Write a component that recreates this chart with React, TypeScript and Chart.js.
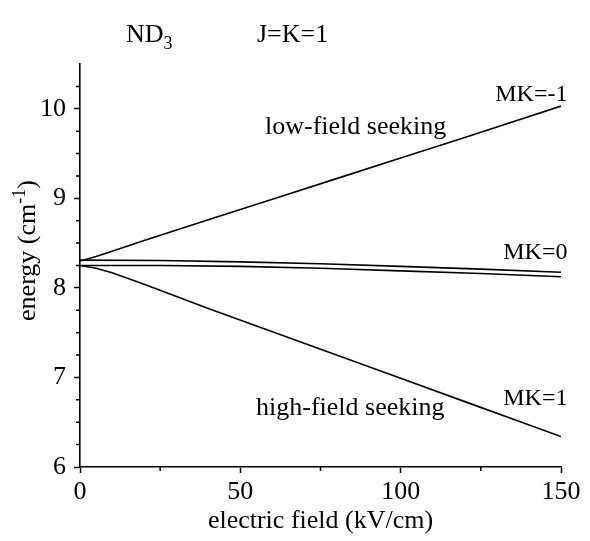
import React, { useEffect, useRef } from "react";
import { Chart, registerables } from "chart.js";

Chart.register(...registerables);

// Electric field (kV/cm) sample positions and energies (cm^-1) of each Stark level
const fieldLow = [0, 5, 10, 20, 40, 60, 80, 100, 120, 150];
const energyMKm1 = [8.3, 8.35, 8.41, 8.53, 8.76, 8.99, 9.22, 9.45, 9.68, 10.03];
const energyMK1 = [8.25, 8.22, 8.17, 8.04, 7.77, 7.51, 7.25, 6.99, 6.73, 6.34];

const fieldMid = [0, 25, 50, 75, 100, 125, 150];
const energyMK0a = [8.31, 8.305, 8.29, 8.27, 8.24, 8.21, 8.175];
const energyMK0b = [8.25, 8.25, 8.24, 8.22, 8.19, 8.16, 8.125];

const xTickLabels = [0, 50, 100, 150];
const yTickLabels = [6, 7, 8, 9, 10];

// Text annotations placed in data coordinates
const annotations = [
  { text: "MK=-1", x: 152, y: 10.09, align: "right", size: 24 },
  { text: "low-field seeking", x: 57.7, y: 9.72, align: "left", size: 26 },
  { text: "MK=0", x: 152, y: 8.32, align: "right", size: 24 },
  { text: "MK=1", x: 152, y: 6.69, align: "right", size: 24 },
  { text: "high-field seeking", x: 54.9, y: 6.58, align: "left", size: 26 },
];

const FONT = "Liberation Serif";
const SIZE = 26;
const SUB = 18;

type Part = { text: string; size: number; dy: number };

function drawParts(ctx: CanvasRenderingContext2D, parts: Part[], x: number, y: number, align: "left" | "center" | "right") {
  let total = 0;
  for (const p of parts) {
    ctx.font = `${p.size}px "${FONT}"`;
    total += ctx.measureText(p.text).width;
  }
  let cx = align === "left" ? x : align === "center" ? x - total / 2 : x - total;
  ctx.textAlign = "left";
  ctx.textBaseline = "alphabetic";
  for (const p of parts) {
    ctx.font = `${p.size}px "${FONT}"`;
    ctx.fillText(p.text, cx, y + p.dy);
    cx += ctx.measureText(p.text).width;
  }
}

const textPlugin = {
  id: "starkText",
  afterDraw(chart: any) {
    const { ctx, chartArea, scales } = chart;
    const xs = scales.x;
    const ys = scales.y;
    ctx.save();
    ctx.fillStyle = "#000";
    ctx.strokeStyle = "#000";

    // minor ticks
    ctx.lineWidth = 1.5;
    ctx.beginPath();
    for (let v = 25; v < 150; v += 50) {
      const px = xs.getPixelForValue(v);
      ctx.moveTo(px, chartArea.bottom);
      ctx.lineTo(px, chartArea.bottom + 4);
    }
    for (let v = 6.25; v < 10.5; v += 0.25) {
      if (Math.abs(v - Math.round(v)) < 1e-6) continue;
      const py = ys.getPixelForValue(v);
      ctx.moveTo(chartArea.left, py);
      ctx.lineTo(chartArea.left - 4, py);
    }
    ctx.stroke();

    // title
    drawParts(ctx, [{ text: "ND", size: SIZE, dy: 0 }, { text: "3", size: SUB, dy: 7 }], chartArea.left + 46, 42, "left");
    drawParts(ctx, [{ text: "J=K=1", size: SIZE, dy: 0 }], chartArea.left + 177, 42, "left");

    // x axis title
    drawParts(ctx, [{ text: "electric field (kV/cm)", size: SIZE, dy: 0 }], (chartArea.left + chartArea.right) / 2, 528, "center");

    // y axis title
    ctx.save();
    ctx.translate(35, (chartArea.top + chartArea.bottom) / 2 - 15);
    ctx.rotate(-Math.PI / 2);
    drawParts(
      ctx,
      [
        { text: "energy (cm", size: SIZE, dy: 0 },
        { text: "-1", size: SUB, dy: -10 },
        { text: ")", size: SIZE, dy: 0 },
      ],
      0,
      0,
      "center"
    );
    ctx.restore();

    // level labels
    for (const a of annotations) {
      drawParts(ctx, [{ text: a.text, size: a.size, dy: 0 }], xs.getPixelForValue(a.x), ys.getPixelForValue(a.y), a.align as any);
    }
    ctx.restore();
  },
};

function toPoints(xs: number[], ys: number[]) {
  return xs.map((x, i) => ({ x, y: ys[i] }));
}

export default function App() {
  const ref = useRef<HTMLCanvasElement | null>(null);

  useEffect(() => {
    document.body.style.margin = "0";
    const canvas = ref.current;
    if (!canvas) return;
    const line = (data: { x: number; y: number }[]) => ({
      data,
      borderColor: "#000",
      borderWidth: 1.6,
      pointRadius: 0,
      showLine: true,
      tension: 0,
      fill: false,
    });
    const chart = new Chart(canvas, {
      type: "scatter",
      data: {
        datasets: [
          line(toPoints(fieldLow, energyMKm1)),
          line(toPoints(fieldMid, energyMK0a)),
          line(toPoints(fieldMid, energyMK0b)),
          line(toPoints(fieldLow, energyMK1)),
        ],
      },
      options: {
        responsive: false,
        animation: false,
        layout: { padding: { top: 64, right: 29, left: 0, bottom: 0 } },
        plugins: { legend: { display: false }, tooltip: { enabled: false }, title: { display: false } },
        scales: {
          x: {
            type: "linear",
            min: 0,
            max: 150,
            afterFit: (s: any) => {
              s.height = 74;
            },
            ticks: {
              stepSize: 50,
              autoSkip: false,
              maxRotation: 0,
              color: "#000",
              padding: 4,
              font: { family: FONT, size: SIZE },
              callback: (v: any) => (xTickLabels.includes(Number(v)) ? String(v) : ""),
            },
            grid: { display: true, drawOnChartArea: false, drawTicks: true, tickLength: 6, tickWidth: 1.5, tickColor: "#000" },
            border: { display: true, color: "#000", width: 1.6 },
          },
          y: {
            type: "linear",
            min: 6,
            max: 10.5,
            afterFit: (s: any) => {
              s.width = 80;
            },
            afterBuildTicks: (s: any) => {
              s.ticks = yTickLabels.map((v) => ({ value: v }));
            },
            ticks: {
              autoSkip: false,
              color: "#000",
              padding: 8,
              font: { family: FONT, size: SIZE },
              callback: (v: any) => String(v),
            },
            grid: { display: true, drawOnChartArea: false, drawTicks: true, tickLength: 6, tickWidth: 1.5, tickColor: "#000" },
            border: { display: true, color: "#000", width: 1.6 },
          },
        },
      },
      plugins: [textPlugin],
    });
    return () => chart.destroy();
  }, []);

  return <canvas ref={ref} width={590} height={541} />;
}
